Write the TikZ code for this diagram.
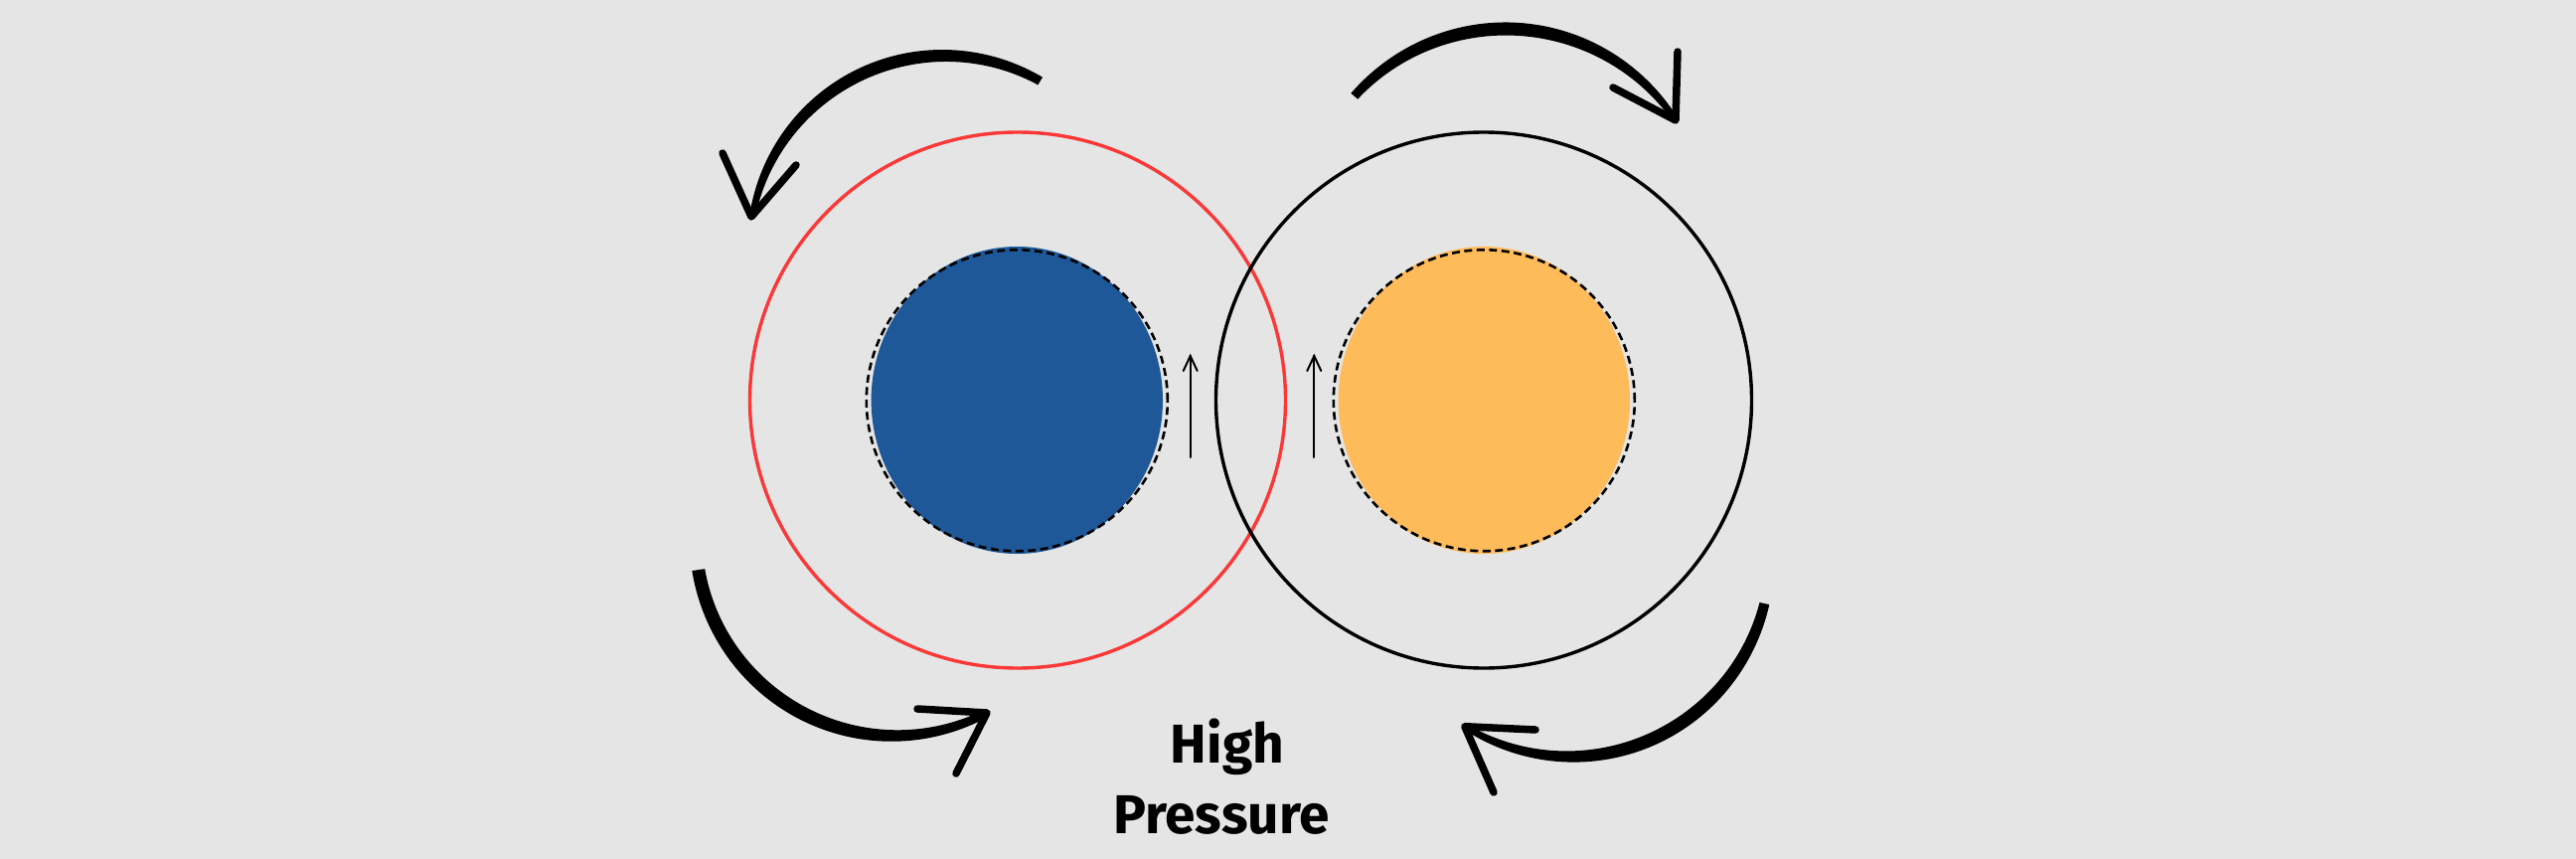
\documentclass[tikz,border=0pt]{standalone}
\usepackage{fontspec}
\setmainfont{Fira Sans}
\definecolor{bgc}{HTML}{E5E5E5}
\definecolor{blu}{HTML}{1F5898}
\definecolor{ora}{HTML}{FEBB59}
\definecolor{redc}{HTML}{FA3838}
% tapered circular arc: cx, cy, r, a0, a1, wstart, wend, bump
\newcommand\taperarc[8]{%
  \fill[black] plot[domain=0:1,samples=80,variable=\t]
    ({(#1)+((#3)+0.5*((#6)+((#7)-(#6))*\t+(#8)*sin(180*\t)))*cos((#4)+((#5)-(#4))*\t)},
     {(#2)+((#3)+0.5*((#6)+((#7)-(#6))*\t+(#8)*sin(180*\t)))*sin((#4)+((#5)-(#4))*\t)})
    -- plot[domain=1:0,samples=80,variable=\t]
    ({(#1)+((#3)-0.5*((#6)+((#7)-(#6))*\t+(#8)*sin(180*\t)))*cos((#4)+((#5)-(#4))*\t)},
     {(#2)+((#3)-0.5*((#6)+((#7)-(#6))*\t+(#8)*sin(180*\t)))*sin((#4)+((#5)-(#4))*\t)})
    -- cycle;}
\tikzset{
  ring/.style={line width=3.4pt},
  halo/.style={draw=black,line width=2.6pt,dash pattern=on 8pt off 4.5pt},
  barb/.style={line width=7.5pt,line cap=round,line join=round},
  thin arrow/.style={line width=2pt,line cap=round,line join=miter},
  label/.style={font=\bfseries\fontsize{55}{62}\selectfont,inner sep=0pt,anchor=base},
}
\begin{document}
\begin{tikzpicture}[x=1pt,y=-1pt]
\useasboundingbox (0,0) rectangle (2592,864);
\fill[bgc] (0,0) rectangle (2592,864);

% inner disks
\fill[blu] (1023.3,402.5) ellipse[x radius=146.7pt,y radius=154.5pt];
\draw[halo] (1023.3,402.8) circle[radius=151.5pt];
\fill[ora] (1493.3,402.5) ellipse[x radius=146.7pt,y radius=154.5pt];
\draw[halo] (1493.3,402.8) circle[radius=151.5pt];

% outer rings
\draw[ring,draw=redc] (1024,402.5) circle[radius=269.5pt];
\draw[ring,draw=black] (1493,402.5) circle[radius=269.5pt];

% small upward arrows
\coordinate (la0) at (1197.7,460);
\coordinate (la1) at (1197.7,358);
\draw[thin arrow] (la0) -- (la1);
\draw[thin arrow] ([xshift=-7pt,yshift=-15pt]la1) -- (la1) -- ([xshift=7pt,yshift=-15pt]la1);
\coordinate (ra0) at (1322.3,460);
\coordinate (ra1) at (1322.3,358);
\draw[thin arrow] (ra0) -- (ra1);
\draw[thin arrow] ([xshift=-7pt,yshift=-15pt]ra1) -- (ra1) -- ([xshift=7pt,yshift=-15pt]ra1);

% big curved arrows
\taperarc{950}{252}{196}{-60.4}{-170}{9}{6}{5}
\coordinate (t1) at (756,218);
\draw[barb] (727,154) -- (t1) -- (801,166);

\taperarc{1515}{234}{205}{-138}{-33.4}{9}{6}{5.5}
\coordinate (t2) at (1686,121);
\draw[barb] (1688,52) -- (t2) -- (1623,88);

\taperarc{900}{540}{200}{170.5}{62.3}{13}{8}{3}
\coordinate (t3) at (993,717);
\draw[barb] (923,713) -- (t3) -- (962,778);

\taperarc{1580}{560}{201}{13.5}{121.9}{10}{6}{5}
\coordinate (t4) at (1473.8,730.7);
\draw[barb] (1545,734) -- (t4) -- (1503,797);

% text
\node[label] (high) at (1235,767) {High};
\node[label] (press) at (1229,838) {Pressure};
\end{tikzpicture}
\end{document}
